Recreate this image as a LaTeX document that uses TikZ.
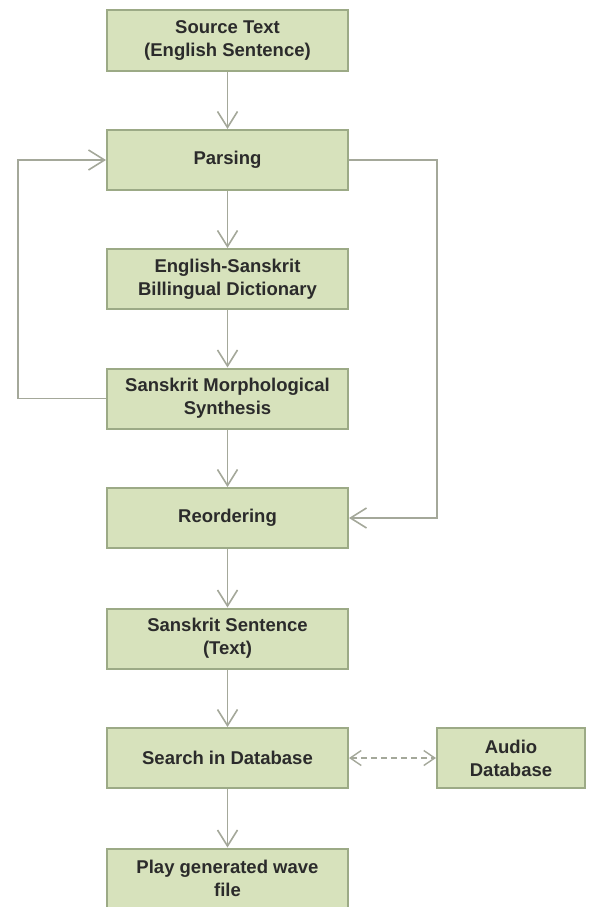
\documentclass[tikz,border=0pt]{standalone}
\usepackage{fontspec}
\setmainfont{Liberation Sans}
\usetikzlibrary{arrows.meta}
\definecolor{boxfill}{HTML}{D7E2BC}
\definecolor{boxdraw}{HTML}{9CAA86}
\definecolor{linecol}{HTML}{A4A89A}
\definecolor{txtcol}{HTML}{2B2B2B}
\begin{document}
\begin{tikzpicture}[x=1pt,y=-1pt,
  box/.style={draw=boxdraw,fill=boxfill,line width=2pt,rectangle,
    minimum width=241pt,minimum height=60pt,inner sep=2pt,align=center,
    text=txtcol,font=\fontsize{18.5}{23}\selectfont\bfseries},
  smallbox/.style={box,minimum width=148pt},
  conn/.style={draw=linecol,line width=1.6pt,-{Straight Barb[length=16pt,width=20pt,line width=1.6pt]}},
  dconn/.style={draw=linecol,line width=1.4pt,dash pattern=on 6pt off 4pt,
    {Straight Barb[length=11pt,width=15pt,line width=1.4pt]}-{Straight Barb[length=11pt,width=15pt,line width=1.4pt]}}
]
\useasboundingbox (0,0) rectangle (589,907);
\node[box] (src) at (227.5,40.5) {Source Text\\(English Sentence)};
\node[box] (pars) at (227.5,160) {Parsing};
\node[box] (dict) at (227.5,279) {English-Sanskrit\\Billingual Dictionary};
\node[box] (morph) at (227.5,398.5) {Sanskrit Morphological\\Synthesis};
\node[box] (reord) at (227.5,518) {Reordering};
\node[box] (sent) at (227.5,638.5) {Sanskrit Sentence\\(Text)};
\node[box] (search) at (227.5,758) {Search in Database};
\node[smallbox] (audio) at (511,758) {Audio\\Database};
\node[box] (play) at (227.5,878.5) {Play generated wave\\file};
\coordinate (lx) at (18,0);
\coordinate (rx) at (437,0);
\draw[conn] (src) -- (pars);
\draw[conn] (pars) -- (dict);
\draw[conn] (dict) -- (morph);
\draw[conn] (morph) -- (reord);
\draw[conn] (reord) -- (sent);
\draw[conn] (sent) -- (search);
\draw[conn] (search) -- (play);
\draw[conn] (morph.west) -- (morph.west -| lx) |- (pars.west);
\draw[conn] (pars.east) -- (pars.east -| rx) |- (reord.east);
\draw[dconn] (search.east) -- (audio.west);
\end{tikzpicture}
\end{document}
